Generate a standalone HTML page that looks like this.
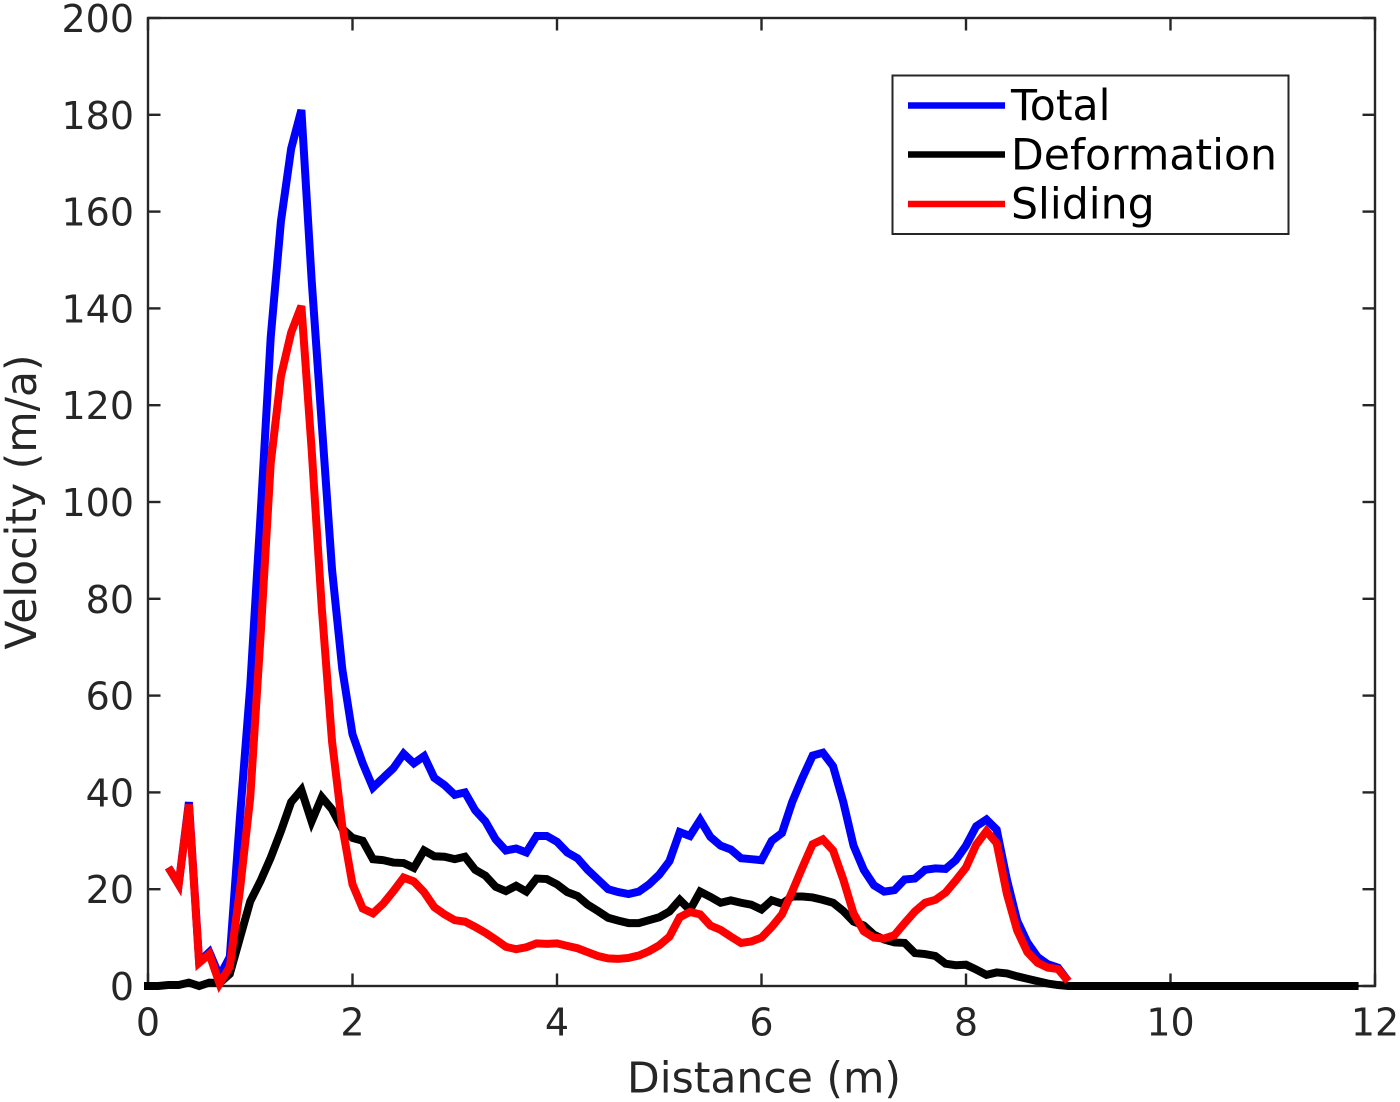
<!DOCTYPE html>
<html lang="en">
<head>
<meta charset="utf-8">
<title>Velocity vs Distance</title>
<style>
html,body{margin:0;padding:0;background:#fff;}
svg{display:block;font-family:"DejaVu Sans","Liberation Sans",sans-serif;}
</style>
</head>
<body>
<svg id="chart" xmlns="http://www.w3.org/2000/svg" width="1400" height="1102" viewBox="0 0 1400 1102">
  <rect x="0" y="0" width="1400" height="1102" fill="#ffffff"/>
  <rect x="148" y="18" width="1227" height="968" fill="none" stroke="#262626" stroke-width="2.4"/>
  <g id="ticks"></g>
  <g id="series"></g>
  <text x="764" y="1092.5" font-size="42.5" text-anchor="middle" fill="#262626">Distance (m)</text>
  <text x="36" y="502" font-size="42.5" text-anchor="middle" fill="#262626" transform="rotate(-90 36 502)">Velocity (m/a)</text>
  <g>
    <rect x="892.5" y="75.5" width="396" height="158.5" fill="#ffffff" stroke="#262626" stroke-width="2"/>
    <line x1="908" x2="1005" y1="105.5" y2="105.5" stroke="#0000ff" stroke-width="6.5"/>
    <text x="1011" y="120" font-size="42.6" fill="#000000">Total</text>
    <line x1="908" x2="1005" y1="154.5" y2="154.5" stroke="#000000" stroke-width="6.5"/>
    <text x="1011" y="169.3" font-size="42.6" fill="#000000">Deformation</text>
    <line x1="908" x2="1005" y1="204" y2="204" stroke="#ff0000" stroke-width="6.5"/>
    <text x="1011" y="218.5" font-size="42.6" fill="#000000">Sliding</text>
  </g>
</svg>
<script>
var xTicks = [0, 2, 4, 6, 8, 10, 12];
var yTicks = [0, 20, 40, 60, 80, 100, 120, 140, 160, 180, 200];
var distance = [0,0.1,0.2,0.3,0.4,0.5,0.6,0.7,0.8,0.9,1,1.1,1.2,1.3,1.4,1.5,1.6,1.7,1.8,1.9,2,2.1,2.2,2.3,2.4,2.5,2.6,2.7,2.8,2.9,3,3.1,3.2,3.3,3.4,3.5,3.6,3.7,3.8,3.9,4,4.1,4.2,4.3,4.4,4.5,4.6,4.7,4.8,4.9,5,5.1,5.2,5.3,5.4,5.5,5.6,5.7,5.8,5.9,6,6.1,6.2,6.3,6.4,6.5,6.6,6.7,6.8,6.9,7,7.1,7.2,7.3,7.4,7.5,7.6,7.7,7.8,7.9,8,8.1,8.2,8.3,8.4,8.5,8.6,8.7,8.8,8.9,9,9.1,9.2,9.3,9.4,9.5,9.6,9.7,9.8,9.9,10,10.1,10.2,10.3,10.4,10.5,10.6,10.7,10.8,10.9,11,11.1,11.2,11.3,11.4,11.5,11.6,11.7,11.8];
var total = [null,null,24.5,21,38,5,7,2,6,35,62,97,134,158,173,181,146,116,86,65.5,52,46,41,43,45,48,46,47.5,43,41.5,39.5,40,36.3,34,30.3,28,28.4,27.6,31,31,29.8,27.6,26.4,24,22,20,19.4,19,19.5,21,23,25.8,31.8,31,34.3,30.8,29,28.2,26.4,26.2,26,30,31.6,38,43,47.6,48.2,45.4,38,29,24,20.8,19.5,19.8,22,22.2,24,24.3,24.2,26,29,33,34.4,32.3,22,13.5,9,6,4.5,3.8,1];
var deformation = [0,0,0.2,0.2,0.7,0,0.7,0.6,2.5,10,17.5,21.7,26.5,32,38,40.5,34,39,36.5,32.5,30.6,30,26.2,26,25.5,25.4,24.4,28,26.8,26.7,26.2,26.7,24,22.8,20.5,19.6,20.7,19.5,22.2,22.1,21,19.4,18.6,16.8,15.5,14.1,13.5,13,13,13.6,14.2,15.4,17.8,15.7,19.5,18.4,17.2,17.7,17.2,16.8,15.8,17.7,17,18.5,18.5,18.3,17.8,17.2,15.5,13.3,12.5,10.6,9.6,9,8.9,6.8,6.6,6.2,4.6,4.3,4.4,3.4,2.3,2.8,2.6,2,1.5,1,0.5,0.2,0,0,0,0,0,0,0,0,0,0,0,0,0,0,0,0,0,0,0,0,0,0,0,0,0,0,0,0,0];
var sliding = [null,null,24.5,21,37.5,4.8,6.6,0.5,4,20,39,72,108,126,135,140.5,111,78,50.5,33,21,16,15,17,19.6,22.4,21.6,19.4,16.3,14.8,13.6,13.3,12.2,11,9.6,8.1,7.6,8,8.8,8.7,8.8,8.3,7.8,7,6.2,5.7,5.6,5.8,6.3,7.2,8.4,10.2,14.2,15.3,14.8,12.5,11.6,10.2,8.9,9.2,10,12.2,14.8,19.5,24.5,29.3,30.3,28,22,15,11.3,10,9.8,10.5,13,15.4,17.2,17.8,19.3,21.8,24.5,29.2,32,29.5,19,11.5,7,4.8,3.8,3.5,1];

var SVG_NS = 'http://www.w3.org/2000/svg';
var plotLeft = 148, plotRight = 1375, plotTop = 18, plotBottom = 986;
var xMax = 12, yMax = 200, tickLength = 12.5;

function xScale(v) { return plotLeft + (v / xMax) * (plotRight - plotLeft); }
function yScale(v) { return plotBottom - (v / yMax) * (plotBottom - plotTop); }

function tickLine(x1, y1, x2, y2) {
  var l = document.createElementNS(SVG_NS, 'line');
  l.setAttribute('x1', x1);
  l.setAttribute('y1', y1);
  l.setAttribute('x2', x2);
  l.setAttribute('y2', y2);
  l.setAttribute('stroke', '#262626');
  l.setAttribute('stroke-width', '2.4');
  return l;
}

var ticksGroup = document.getElementById('ticks');

xTicks.forEach(function (t) {
  var x = xScale(t);
  var bottom = tickLine(x, plotBottom, x, plotBottom - tickLength);
  
  
  ticksGroup.appendChild(bottom);
  var top = tickLine(x, plotTop, x, plotTop + tickLength);
  
  
  ticksGroup.appendChild(top);
  var label = document.createElementNS(SVG_NS, 'text');
  
  
  label.setAttribute('x', x);
  label.setAttribute('y', 1035.5);
  label.setAttribute('font-size', '38');
  label.setAttribute('fill', '#262626');
  label.setAttribute('text-anchor', 'middle');
  label.textContent = String(t);
  ticksGroup.appendChild(label);
});

yTicks.forEach(function (t) {
  var y = yScale(t);
  var left = tickLine(plotLeft, y, plotLeft + tickLength, y);
  
  
  ticksGroup.appendChild(left);
  var right = tickLine(plotRight, y, plotRight - tickLength, y);
  
  
  ticksGroup.appendChild(right);
  var label = document.createElementNS(SVG_NS, 'text');
  
  
  label.setAttribute('x', 134);
  label.setAttribute('y', y + 14);
  label.setAttribute('font-size', '38');
  label.setAttribute('fill', '#262626');
  label.setAttribute('text-anchor', 'end');
  label.textContent = String(t);
  ticksGroup.appendChild(label);
});

function linePoints(values) {
  var pts = [];
  for (var i = 0; i < values.length; i++) {
    if (values[i] === null || values[i] === undefined) { continue; }
    pts.push(xScale(distance[i]).toFixed(2) + ',' + yScale(values[i]).toFixed(2));
  }
  return pts.join(' ');
}

var seriesGroup = document.getElementById('series');

var totalLine = document.createElementNS(SVG_NS, 'polyline');


totalLine.setAttribute('points', linePoints(total));
totalLine.setAttribute('fill', 'none');
totalLine.setAttribute('stroke', '#0000ff');
totalLine.setAttribute('stroke-width', '8');
seriesGroup.appendChild(totalLine);

var deformationLine = document.createElementNS(SVG_NS, 'polyline');


deformationLine.setAttribute('points', linePoints(deformation));
deformationLine.setAttribute('fill', 'none');
deformationLine.setAttribute('stroke', '#000000');
deformationLine.setAttribute('stroke-width', '8');
deformationLine.setAttribute('stroke-linecap', 'square');
seriesGroup.appendChild(deformationLine);

var slidingLine = document.createElementNS(SVG_NS, 'polyline');


slidingLine.setAttribute('points', linePoints(sliding));
slidingLine.setAttribute('fill', 'none');
slidingLine.setAttribute('stroke', '#ff0000');
slidingLine.setAttribute('stroke-width', '8');
seriesGroup.appendChild(slidingLine);
</script>
</body>
</html>
